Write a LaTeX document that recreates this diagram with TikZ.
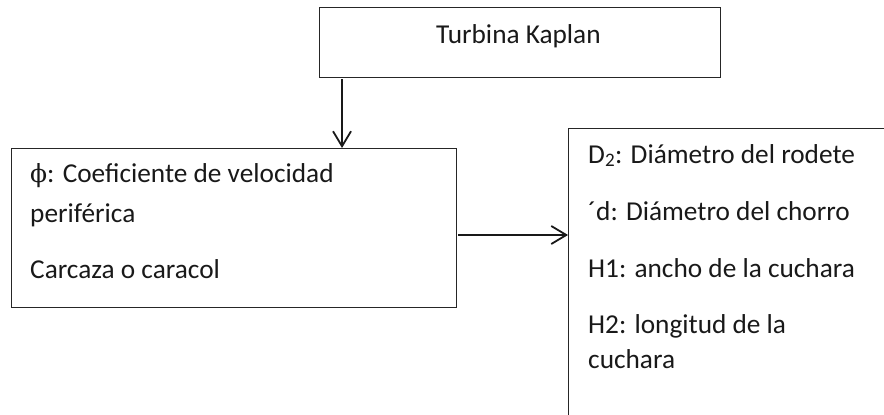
\documentclass[tikz,border=0pt]{standalone}
\usepackage{fontspec}
\setmainfont{Carlito}
\newfontfamily\greekfont{DejaVu Serif}
\usetikzlibrary{arrows.meta}
\begin{document}
\begin{tikzpicture}[x=1pt,y=-1pt,
  box/.style={draw=black!85,line width=1.3pt,rectangle,inner sep=0pt,anchor=north west},
  txt/.style={anchor=base west,inner sep=0pt,text=black!90,align=left,
    font=\fontsize{27.3pt}{38pt}\selectfont},
  arr/.style={draw=black!90,line width=1.8pt,-{Straight Barb[length=15pt,width=18pt,line width=1.8pt]}}]
\useasboundingbox (0,0) rectangle (884,415);
\clip (0,0) rectangle (884,415);

% top box
\node[box,minimum width=401pt,minimum height=70pt] (kaplan) at (319,7) {};
\node[txt] (kaplanlbl) at (436,43) {Turbina Kaplan};

% left box (multi-line texts are placed by the baseline of their last line)
\node[box,minimum width=445pt,minimum height=159pt] (coef) at (11,148) {};
\node[txt] (coefA) at (30,222) {{\greekfont\fontsize{25pt}{38pt}\selectfont ϕ}: Coeficiente de velocidad\\[2pt]periférica};
\node[txt] (coefB) at (30,278) {Carcaza o caracol};

% right box (runs past the page edge)
\node[box,minimum width=400pt,minimum height=400pt] (dims) at (568,128) {};
\node[txt] (d2) at (588,163) {D\textsubscript{2}: Diámetro del rodete};
\node[txt] (dj) at (588,220) {´d: Diámetro del chorro};
\node[txt] (h1) at (588,277) {H1: ancho de la cuchara};
\node[txt] (h2) at (588,368) {H2: longitud de la\\[-3pt]cuchara};

% connectors
\coordinate (down) at (342,79);
\draw[arr] (down) -- (down |- coef.north);
\coordinate (right) at (458,235);
\draw[arr] (right) -- (right -| dims.west);
\end{tikzpicture}
\end{document}
